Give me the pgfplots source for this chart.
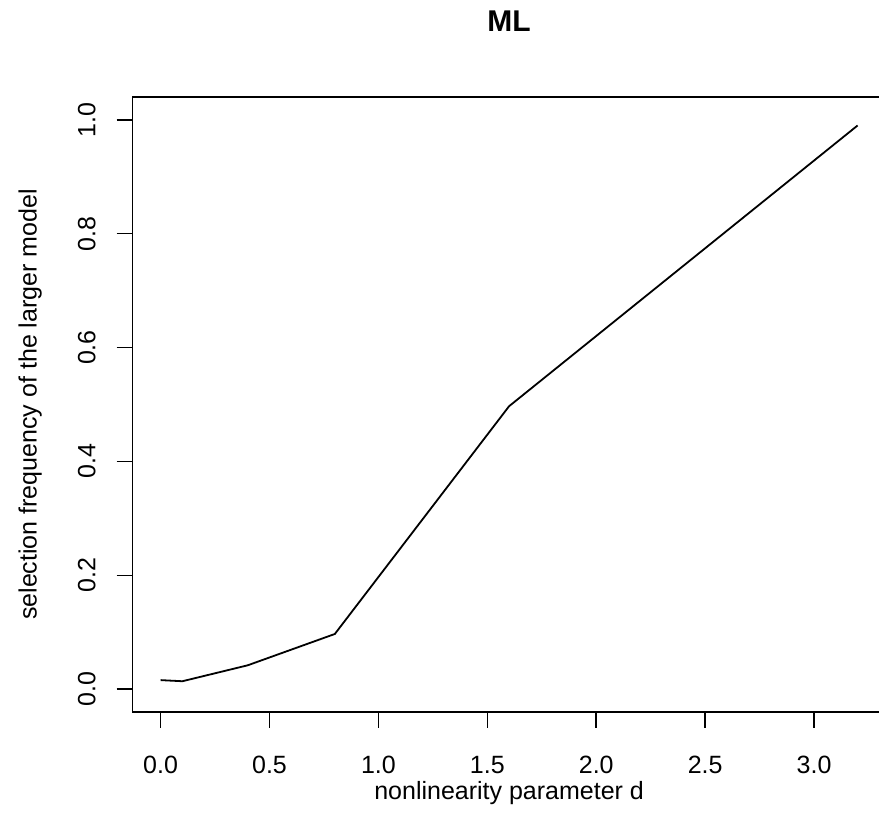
\documentclass[border=0pt]{standalone}
\usepackage{fontspec}
\setmainfont{Liberation Sans}
\usepackage{pgfplots}
\pgfplotsset{compat=1.18}

\begin{document}
\begin{tikzpicture}
\path[use as bounding box] (-66.35pt,-64pt) rectangle (373.15pt,356pt);
\begin{axis}[
    at={(0,0)}, anchor=south west,
    scale only axis,
    width=376.4pt, height=307.5pt,
    xmin=-0.128, xmax=3.328,
    ymin=-0.04, ymax=1.04,
    clip mode=individual,
    axis line style={line width=0.8pt},
    tick style={line width=0.8pt, black},
    tick align=outside, major tick length=8pt,
    xtick pos=bottom, ytick pos=left,
    xtick={0,0.5,1,1.5,2,2.5,3},
    ytick={0,0.2,0.4,0.6,0.8,1},
    /pgf/number format/assume math mode=true,
    xticklabel={\pgfmathprintnumber[fixed,fixed zerofill,precision=1]{\tick}},
    yticklabel={\pgfmathprintnumber[fixed,fixed zerofill,precision=1]{\tick}},
    tick label style={font=\fontsize{12.5}{14}\selectfont},
    xticklabel style={anchor=center, yshift=-18.5pt},
    yticklabel style={anchor=center, xshift=-15pt, rotate=90},
]
\addplot[black, line width=0.9pt] coordinates {
    (0.0, 0.016) (0.1, 0.014) (0.4, 0.042) (0.8, 0.097) (1.6, 0.497) (3.2, 0.990)
};
\node[font=\fontsize{12.5}{14}\selectfont] at ([yshift=-40.5pt]rel axis cs:0.5,0) {nonlinearity parameter d};
\node[font=\fontsize{12.5}{14}\selectfont, rotate=90] at ([xshift=-51.3pt]rel axis cs:0,0.5) {selection frequency of the larger model};
\node[font=\fontsize{15}{17}\selectfont\bfseries] at ([yshift=37.75pt]rel axis cs:0.5,1) {ML};
\end{axis}
\end{tikzpicture}
\end{document}
